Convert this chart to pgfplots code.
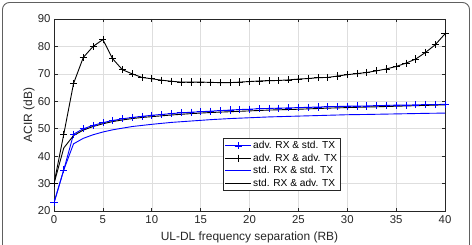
\documentclass[border=0pt]{standalone}
\usepackage{pgfplots}
\pgfplotsset{compat=1.18}
\usepackage{fontspec}
\setmainfont{Liberation Sans}
\definecolor{axgray}{gray}{0.15}
\definecolor{gridgray}{gray}{0.87}
\begin{document}
\begin{tikzpicture}[x=1bp,y=1bp]
% page area
\path[use as bounding box] (-54,-33) rectangle (418,211);
\begin{axis}[
  scale only axis,
  width=391bp, height=192bp,
  xmin=0, xmax=40, ymin=20, ymax=90,
  xtick={0,5,...,40}, ytick={20,30,...,90},
  grid=major,
  major grid style={gridgray, line width=0.5bp},
  tick align=inside,
  major tick length=3.5bp,
  axis line style={axgray, line width=0.6bp},
  tick style={axgray, line width=0.6bp},
  every tick label/.append style={text=axgray, font=\fontsize{11.4}{13}\selectfont},
  /pgf/number format/assume math mode=true,
  xticklabel style={yshift=-1bp},
  xlabel={UL-DL frequency separation (RB)},
  ylabel={ACIR (dB)},
  label style={text=axgray, font=\fontsize{12}{14}\selectfont},
  xlabel style={at={(axis description cs:0.5,-0.14)}, anchor=center},
  ylabel style={at={(axis description cs:-0.064,0.5)}, anchor=center},
  legend style={at={(0.432,0.38)}, anchor=north west,
    font=\fontsize{10.2}{12}\selectfont, draw=axgray, line width=0.6bp,
    fill=white, inner sep=1.5bp, row sep=0.4bp,
    nodes={inner sep=1.6bp}},
  legend cell align=left,
  legend image code/.code={
    \draw[#1] (0bp,0bp) -- (26bp,0bp);
    \draw[#1, mark repeat=2, mark phase=2] plot coordinates {(0bp,0bp) (13bp,0bp) (26bp,0bp)};
  },
]
% adv. RX & std. TX
\addplot[blue, line width=0.9bp, mark=+, mark size=3.6bp, mark options={line width=0.7bp}] coordinates {
(0,23) (1,35) (2,48) (3,50) (4,51.2) (5,52.2) (6,53) (7,53.6) (8,54.1) (9,54.5)
(10,54.9) (11,55.2) (12,55.5) (13,55.8) (14,56) (15,56.2) (16,56.4) (17,56.6) (18,56.8) (19,57)
(20,57.1) (21,57.3) (22,57.4) (23,57.5) (24,57.6) (25,57.7) (26,57.8) (27,57.9) (28,58) (29,58.1)
(30,58.2) (31,58.3) (32,58.3) (33,58.4) (34,58.5) (35,58.6) (36,58.6) (37,58.7) (38,58.8) (39,58.8) (40,58.9)
};
\addlegendentry{adv. RX \& std. TX}
% adv. RX & adv. TX
\addplot[black, line width=0.9bp, mark=+, mark size=3.6bp, mark options={line width=0.7bp}] coordinates {
(0,30) (1,48) (2,66.5) (3,76) (4,80) (5,82.5) (6,75.5) (7,71.5) (8,70) (9,68.7)
(10,68.2) (11,67.7) (12,67.3) (13,67) (14,67) (15,67) (16,66.9) (17,66.8) (18,66.8) (19,67)
(20,67.2) (21,67.4) (22,67.5) (23,67.6) (24,67.8) (25,68.1) (26,68.3) (27,68.6) (28,68.7) (29,69.2)
(30,69.7) (31,70.1) (32,70.5) (33,71.1) (34,71.8) (35,72.7) (36,73.9) (37,75.4) (38,77.8) (39,80.6) (40,84.6)
};
\addlegendentry{adv. RX \& adv. TX}
% std. RX & std. TX
\addplot[blue, line width=0.9bp, mark=none] coordinates {
(0,23) (1,35) (2,44.5) (3,46.5) (4,47.8) (5,48.8) (6,49.6) (7,50.2) (8,50.8) (9,51.2)
(10,51.6) (12,52.3) (14,52.8) (16,53.3) (18,53.7) (20,54) (22,54.3) (25,54.6) (28,54.9)
(30,55.1) (32,55.2) (35,55.4) (38,55.6) (40,55.7)
};
\addlegendentry{std. RX \& std. TX}
% std. RX & adv. TX
\addplot[black, line width=0.9bp, mark=none] coordinates {
(0,30) (1,43) (2,47.5) (3,49.5) (4,50.8) (5,51.8) (6,52.6) (7,53.2) (8,53.7) (9,54.1)
(10,54.4) (12,55) (14,55.5) (16,55.9) (18,56.2) (20,56.5) (22,56.8) (25,57.1) (28,57.5)
(30,57.7) (32,57.9) (35,58.2) (38,58.5) (40,58.7)
};
\addlegendentry{std. RX \& adv. TX}
\end{axis}
% outer frame
\draw[gray!75!black, line width=0.9bp, rounded corners=7bp] (-51.5,-45) rectangle (415.5,208.5);
\end{tikzpicture}
\end{document}
